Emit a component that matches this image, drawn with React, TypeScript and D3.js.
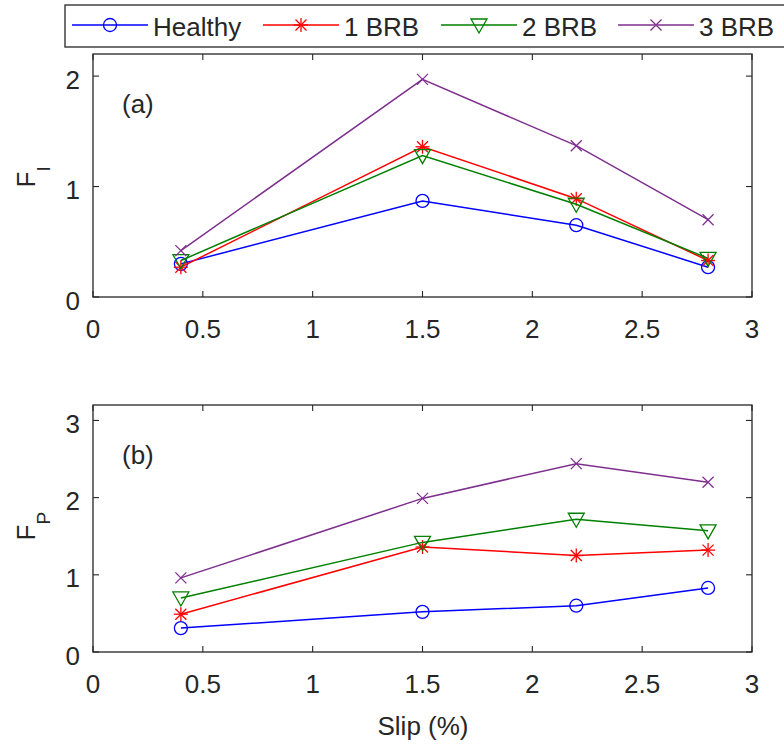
import React from "react";
import * as d3 from "d3";

const slip = [0.4, 1.5, 2.2, 2.8];
const seriesNames = ["Healthy", "1 BRB", "2 BRB", "3 BRB"];
const fiHealthy = [0.3, 0.87, 0.65, 0.27];
const fi1BRB = [0.27, 1.36, 0.89, 0.33];
const fi2BRB = [0.33, 1.28, 0.84, 0.35];
const fi3BRB = [0.42, 1.97, 1.37, 0.7];
const fpHealthy = [0.31, 0.52, 0.6, 0.83];
const fp1BRB = [0.49, 1.36, 1.25, 1.32];
const fp2BRB = [0.7, 1.42, 1.72, 1.57];
const fp3BRB = [0.96, 1.99, 2.44, 2.2];
const xTicks = [0, 0.5, 1, 1.5, 2, 2.5, 3];
const xTickLabels = ["0", "0.5", "1", "1.5", "2", "2.5", "3"];
const yTicksA = [0, 1, 2];
const yTicksB = [0, 1, 2, 3];

const colors = ["#0000ff", "#ff0000", "#008000", "#7e2f8e"];
const markerTypes = ["circle", "star", "tri", "x"];
const axisColor = "#262626";
const font = "'Liberation Sans', Arial, Helvetica, sans-serif";

function Marker({ type, x, y, color }: { type: string; x: number; y: number; color: string }) {
  const sw = 1.3;
  if (type === "circle") {
    return <circle cx={x} cy={y} r={6.5} fill="none" stroke={color} strokeWidth={sw} />;
  }
  if (type === "star") {
    const h = 7;
    const d = 5.5;
    return (
      <g stroke={color} strokeWidth={sw}>
        <line x1={x} y1={y - h} x2={x} y2={y + h} />
        <line x1={x - h} y1={y} x2={x + h} y2={y} />
        <line x1={x - d} y1={y - d} x2={x + d} y2={y + d} />
        <line x1={x - d} y1={y + d} x2={x + d} y2={y - d} />
      </g>
    );
  }
  if (type === "tri") {
    const w = 8;
    const p = `${x - w},${y - 6} ${x + w},${y - 6} ${x},${y + 8}`;
    return <polygon points={p} fill="none" stroke={color} strokeWidth={sw} />;
  }
  const s = 5.5;
  return (
    <g stroke={color} strokeWidth={sw}>
      <line x1={x - s} y1={y - s} x2={x + s} y2={y + s} />
      <line x1={x - s} y1={y + s} x2={x + s} y2={y - s} />
    </g>
  );
}

function Panel({
  top, bottom, yMax, yTicks, data, label, yMain, ySub,
}: {
  top: number; bottom: number; yMax: number; yTicks: number[]; data: number[][];
  label: string; yMain: string; ySub: string;
}) {
  const left = 93;
  const right = 752;
  const x = d3.scaleLinear().domain([0, 3]).range([left, right]);
  const y = d3.scaleLinear().domain([0, yMax]).range([bottom, top]);
  const line = d3.line<number>().x((_, i) => x(slip[i])).y((v) => y(v));
  const tl = 6;
  const cy = (top + bottom) / 2;
  return (
    <g>
      {data.map((s, k) => (
        <g key={k}>
          <path d={line(s) || ""} fill="none" stroke={colors[k]} strokeWidth={1.5} />
          {s.map((v, i) => (
            <Marker key={i} type={markerTypes[k]} x={x(slip[i])} y={y(v)} color={colors[k]} />
          ))}
        </g>
      ))}
      <rect x={left} y={top} width={right - left} height={bottom - top} fill="none" stroke={axisColor} strokeWidth={1.3} />
      {xTicks.map((t, i) => (
        <g key={i}>
          <line x1={x(t)} x2={x(t)} y1={bottom} y2={bottom - tl} stroke={axisColor} strokeWidth={1.1} />
          <line x1={x(t)} x2={x(t)} y1={top} y2={top + tl} stroke={axisColor} strokeWidth={1.1} />
          <text x={x(t)} y={bottom + 41} textAnchor="middle" fontSize={26} fill={axisColor} fontFamily={font}>
            {xTickLabels[i]}
          </text>
        </g>
      ))}
      {yTicks.map((t, i) => (
        <g key={i}>
          <line x1={left} x2={left + tl} y1={y(t)} y2={y(t)} stroke={axisColor} strokeWidth={1.1} />
          <line x1={right} x2={right - tl} y1={y(t)} y2={y(t)} stroke={axisColor} strokeWidth={1.1} />
          <text x={80} y={y(t) + 12.5} textAnchor="end" fontSize={26} fill={axisColor} fontFamily={font}>
            {String(t)}
          </text>
        </g>
      ))}
      <text x={122} y={top + (label === "(a)" ? 58.5 : 59)} fontSize={26} fill={axisColor} fontFamily={font}>
        {label}
      </text>
      <text transform={`translate(35,${cy + 12}) rotate(-90)`} fontSize={26} fill={axisColor} fontFamily={font}>
        {yMain}
        <tspan dy={15} fontSize={19}>{ySub}</tspan>
      </text>
    </g>
  );
}

export default function App() {
  const legendX = [72, 263, 441, 618];
  const legendLine = 76;
  return (
    <svg width={784} height={746} style={{ position: "absolute", left: 0, top: 0, background: "#fff" }}>
      <rect x={0} y={0} width={784} height={746} fill="#fff" />
      <Panel top={54} bottom={297} yMax={2.2} yTicks={yTicksA}
        data={[fiHealthy, fi1BRB, fi2BRB, fi3BRB]} label="(a)" yMain="F" ySub="I" />
      <Panel top={405} bottom={652} yMax={3.2} yTicks={yTicksB}
        data={[fpHealthy, fp1BRB, fp2BRB, fp3BRB]} label="(b)" yMain="F" ySub="P" />
      <text x={423} y={735} textAnchor="middle" fontSize={26} fill={axisColor} fontFamily={font}>
        Slip (%)
      </text>
      <rect x={65} y={5} width={760} height={42} fill="#fff" stroke={axisColor} strokeWidth={1.3} />
      {seriesNames.map((n, k) => (
        <g key={k}>
          <line x1={legendX[k]} x2={legendX[k] + legendLine} y1={25} y2={25} stroke={colors[k]} strokeWidth={1.5} />
          <Marker type={markerTypes[k]} x={legendX[k] + legendLine / 2} y={25} color={colors[k]} />
          <text x={legendX[k] + legendLine + 5} y={36} fontSize={26} fill={axisColor} fontFamily={font}>
            {n}
          </text>
        </g>
      ))}
    </svg>
  );
}
